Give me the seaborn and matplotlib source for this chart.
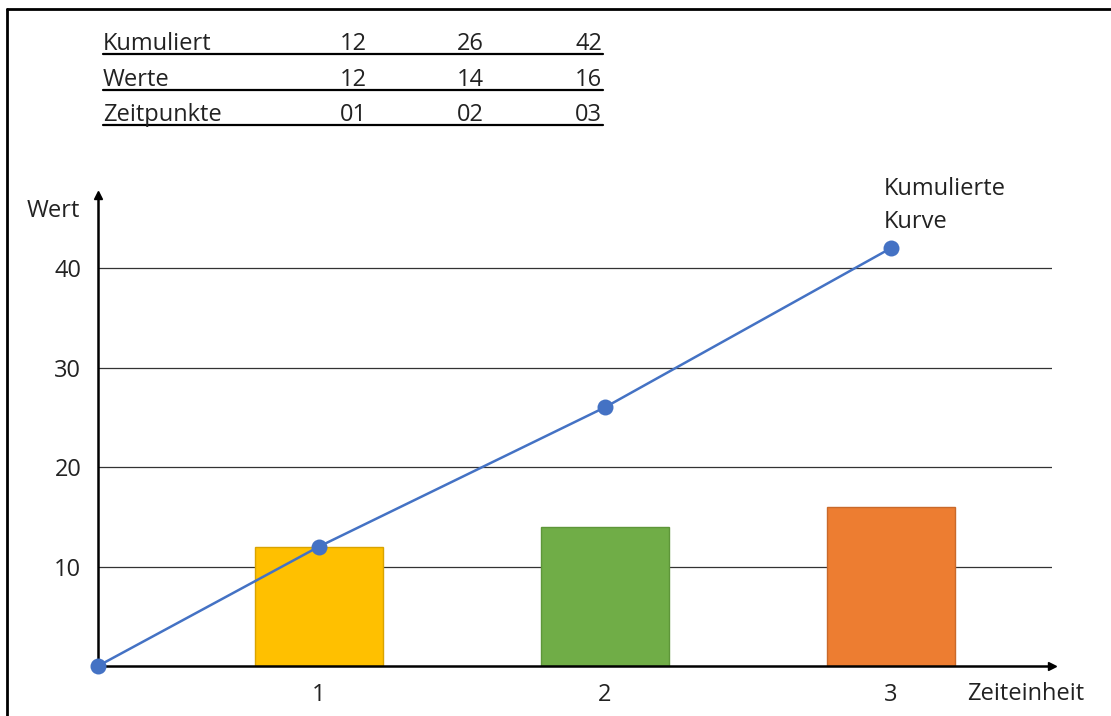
import numpy as np
import pandas as pd
import seaborn as sns
import matplotlib.pyplot as plt
from matplotlib.lines import Line2D

# Werte aus der Tabelle
zeitpunkte = [1, 2, 3]
zeit_labels = ["01", "02", "03"]
werte = [12, 14, 16]
kumuliert = [12, 26, 42]
farben = ["#FFC000", "#70AD47", "#ED7D31"]
kanten = ["#D9A300", "#5E9639", "#C9692A"]

W, H = 1111, 716
sns.set_style("white")
plt.rcParams["font.family"] = ["Open Sans", "DejaVu Sans"]
fs = 17

fig = plt.figure(figsize=(W / 100, H / 100), dpi=100)

def px(x, y):
    # Pixel (von oben links) -> Figure-Koordinaten
    return x / W, 1 - y / H

# Achse: x=0 liegt links bei Pixel 98, Abstand zwischen Zeitpunkten 286 px
x0 = 1 - (319 - 98) / 286
x1 = x0 + (1052 - 98) / 286
ytop = (666 - 195) / 9.95
ax = fig.add_axes([98 / W, 50 / H, (1052 - 98) / W, (666 - 195) / H])

df = pd.DataFrame({"Zeit": zeitpunkte, "Wert": werte})
sns.barplot(data=df, x="Zeit", y="Wert", hue="Zeit", palette=farben,
            native_scale=True, width=0.45, legend=False, ax=ax, zorder=3,
            linewidth=1, saturation=1)
for p, k in zip(ax.patches, kanten):
    p.set_edgecolor(k)

kurve = pd.DataFrame({"Zeit": [x0] + zeitpunkte, "Kumuliert": [0] + kumuliert})
sns.lineplot(data=kurve, x="Zeit", y="Kumuliert", color="#4472C4", lw=1.8,
             marker="o", markersize=11.5, markeredgewidth=0, ax=ax, zorder=5,
             clip_on=False)

ax.set_xlim(x0, x1)
ax.set_ylim(0, ytop)
ax.set_xticks(zeitpunkte)
ax.set_xticklabels([str(z) for z in zeitpunkte])
ax.set_yticks([10, 20, 30, 40])
ax.set_xlabel("")
ax.set_ylabel("")
ax.tick_params(length=0, labelsize=fs, colors="#222222")
ax.tick_params(axis="y", pad=12)
ax.tick_params(axis="x", pad=12)
ax.yaxis.grid(True, color="#333333", lw=0.9)
ax.set_axisbelow(True)
for s in ["top", "right"]:
    ax.spines[s].set_visible(False)
for s in ["left", "bottom"]:
    ax.spines[s].set_linewidth(1.8)
    ax.spines[s].set_color("black")
    ax.spines[s].set_zorder(4)
# Pfeilspitzen
ax.plot(1, 0, ">k", ms=6, transform=ax.transAxes, clip_on=False)
ax.plot(0, 1, "^k", ms=6, transform=ax.transAxes, clip_on=False)

fig.text(*px(80, 217), "Wert", ha="right", va="baseline", color="#222222", fontsize=fs)
fig.text(*px(967, 700), "Zeiteinheit", ha="left", va="baseline", color="#222222", fontsize=fs)
ax.annotate("Kumulierte\nKurve", xy=(3, 42), xycoords="data",
            xytext=(884, H - 228), textcoords="figure pixels",
            ha="left", va="baseline", linespacing=1.5, color="#222222", fontsize=fs)

# Tabelle oben
zeilen = [("Kumuliert", kumuliert), ("Werte", werte), ("Zeitpunkte", zeit_labels)]
basis = [50, 85.5, 121]
rechts = [367, 484, 602]
for (name, vals), yb in zip(zeilen, basis):
    fig.text(*px(103, yb), name, ha="left", va="baseline", color="#222222", fontsize=fs)
    for v, xr in zip(vals, rechts):
        fig.text(*px(xr, yb), str(v), ha="right", va="baseline", color="#222222", fontsize=fs)
    fig.add_artist(Line2D([103 / W, 603 / W], [1 - (yb + 4) / H] * 2,
                          color="black", lw=1.6))

# Rahmen links und oben
fig.add_artist(Line2D([7 / W, 1], [1 - 8.5 / H] * 2, color="black", lw=2))
fig.add_artist(Line2D([7 / W] * 2, [0, 1 - 8.5 / H], color="black", lw=2))

fig.savefig("out.png", dpi=100)
